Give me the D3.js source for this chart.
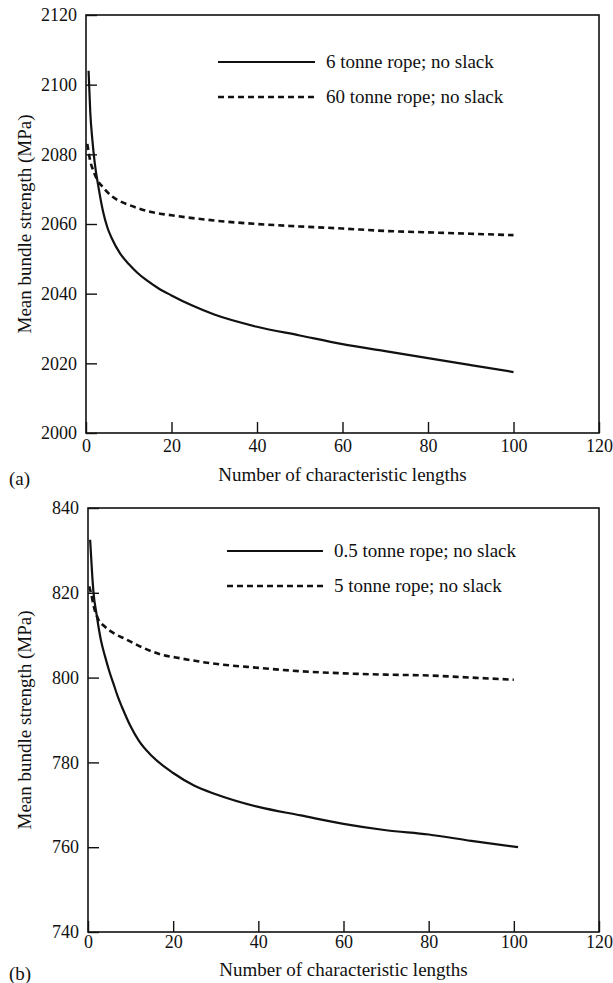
<!DOCTYPE html>
<html>
<head>
  <meta charset="utf-8">
  <title>Mean bundle strength</title>
  <script src="https://d3js.org/d3.v7.min.js"></script>
  <style>
    body { margin: 0; background: #fff; }
    svg text { font-family: "Liberation Serif", "DejaVu Serif", serif; fill: #111; }
  </style>
</head>
<body>
<script>
// panel (a)
var aSolidX = [0.6, 1, 1.5, 2, 3, 4, 5, 6, 8, 10, 12, 14, 17, 20, 25, 30, 40, 50, 60, 70, 80, 90, 100];
var aSolidY = [2104, 2092, 2084, 2078, 2070, 2063.5, 2059, 2056, 2051.5, 2048.5, 2046, 2044, 2041.5, 2039.5, 2036.5, 2034, 2030.5, 2028, 2025.5, 2023.5, 2021.5, 2019.5, 2017.5];
var aDashX = [0.3, 0.7, 1, 1.5, 2.5, 4, 6, 8, 10, 15, 20, 30, 40, 50, 60, 70, 80, 90, 100];
var aDashY = [2083, 2080, 2078, 2076, 2073, 2070.5, 2068, 2066.5, 2065.5, 2063.5, 2062.5, 2061, 2060, 2059.3, 2058.7, 2058, 2057.6, 2057.2, 2056.8];
var aYTicks = [2000, 2020, 2040, 2060, 2080, 2100, 2120];
var aLegend = ["6 tonne rope; no slack", "60 tonne rope; no slack"];

// panel (b)
var bSolidX = [0.5, 1, 1.3, 2, 3, 4, 5, 6, 7, 8, 10, 12, 15, 20, 25, 30, 40, 50, 60, 70, 80, 90, 101];
var bSolidY = [832.5, 824, 820, 815, 809, 805, 801.5, 798.5, 795.5, 793, 788.5, 785, 781.5, 777.5, 774.5, 772.5, 769.5, 767.5, 765.5, 764, 763, 761.5, 760];
var bDashX = [0.3, 0.8, 1.3, 2.3, 4, 6, 9, 13, 17, 22, 28, 40, 50, 60, 70, 80, 90, 100];
var bDashY = [821.5, 819.5, 817, 814, 812, 810.5, 809, 807, 805.5, 804.5, 803.5, 802.3, 801.5, 801, 800.7, 800.5, 800, 799.5];
var bYTicks = [740, 760, 780, 800, 820, 840];
var bLegend = ["0.5 tonne rope; no slack", "5 tonne rope; no slack"];

var xTicks = [0, 20, 40, 60, 80, 100, 120];

var svg = d3.select("body").append("svg").attr("width", 613).attr("height", 983);

function zip(xs, ys) {
  return xs.map(function(x, i) { return [x, ys[i]]; });
}

function drawPanel(p) {
  var x = d3.scaleLinear().domain([0, 120]).range([p.left, p.right]);
  var y = d3.scaleLinear().domain(p.yDomain).range([p.bottom, p.top]);
  var g = svg.append("g");

  g.append("rect")
    .attr("x", p.left).attr("y", p.top)
    .attr("width", p.right - p.left).attr("height", p.bottom - p.top)
    .attr("fill", "none").attr("stroke", "#111").attr("stroke-width", 1.6);

  var yAxis = g.append("g")
    .attr("transform", "translate(" + p.left + ",0)")
    .call(d3.axisLeft(y).tickValues(p.yTicks).tickSize(-11).tickPadding(9).tickFormat(d3.format("d")));
  var xAxis = g.append("g")
    .attr("transform", "translate(0," + p.bottom + ")")
    .call(d3.axisBottom(x).tickValues(xTicks).tickSize(-11).tickPadding(p.xPad));

  [yAxis, xAxis].forEach(function(a) {
    a.select(".domain").remove();
    a.selectAll("line").attr("stroke", "#111").attr("stroke-width", 1.4);
    a.selectAll("text").attr("font-size", 18).attr("font-family", "Liberation Serif").attr("fill", "#111");
  });

  var line = d3.line()
    .x(function(d) { return x(d[0]); })
    .y(function(d) { return y(d[1]); })
    .curve(d3.curveMonotoneX);

  g.append("path").datum(zip(p.solidX, p.solidY))
    .attr("d", line).attr("fill", "none").attr("stroke", "#111").attr("stroke-width", 2.2);
  g.append("path").datum(zip(p.dashX, p.dashY))
    .attr("d", line).attr("fill", "none").attr("stroke", "#111").attr("stroke-width", 2.6)
    .attr("stroke-dasharray", "6,4");

  // legend
  p.legend.forEach(function(name, i) {
    var ly = p.legendY + i * 35;
    g.append("line")
      .attr("x1", p.legendX1).attr("x2", p.legendX2)
      .attr("y1", ly).attr("y2", ly)
      .attr("stroke", "#111").attr("stroke-width", i === 0 ? 2.2 : 2.6)
      .attr("stroke-dasharray", i === 0 ? null : "6,4");
    g.append("text")
      .attr("x", p.legendX2 + 11).attr("y", ly + 6)
      .attr("font-size", 19)
      .text(name);
  });

  g.append("text")
    .attr("x", (p.left + p.right) / 2).attr("y", p.bottom + p.titleDy)
    .attr("text-anchor", "middle").attr("font-size", 19)
    .text("Number of characteristic lengths");

  g.append("text")
    .attr("transform", "translate(31," + (p.top + p.bottom) / 2 + ") rotate(-90)")
    .attr("text-anchor", "middle").attr("font-size", 19)
    .text("Mean bundle strength (MPa)");

  g.append("text")
    .attr("x", 9).attr("y", p.bottom + p.titleDy + 4)
    .attr("font-size", 19)
    .text(p.tag);
}

drawPanel({
  left: 86, right: 599, top: 15, bottom: 433,
  yDomain: [2000, 2120], yTicks: aYTicks,
  solidX: aSolidX, solidY: aSolidY, dashX: aDashX, dashY: aDashY,
  legend: aLegend, legendX1: 218, legendX2: 315, legendY: 62,
  xPad: 6, titleDy: 48, tag: "(a)"
});

drawPanel({
  left: 88, right: 599, top: 508, bottom: 932,
  yDomain: [740, 840], yTicks: bYTicks,
  solidX: bSolidX, solidY: bSolidY, dashX: bDashX, dashY: bDashY,
  legend: bLegend, legendX1: 227, legendX2: 323, legendY: 551,
  xPad: 3, titleDy: 44, tag: "(b)"
});
</script>
</body>
</html>
